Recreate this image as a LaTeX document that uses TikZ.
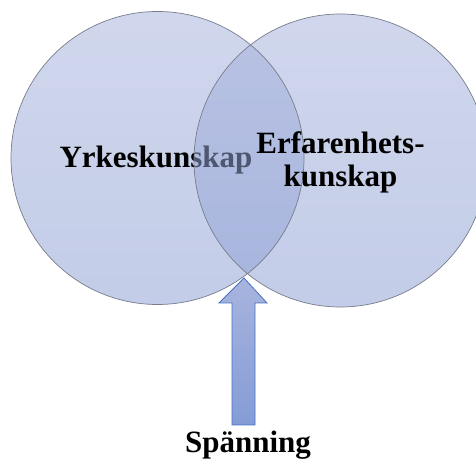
\documentclass[tikz,border=0pt]{standalone}
\usepackage{fontspec}
\setmainfont{Liberation Serif}
\definecolor{cirkeltopp}{RGB}{165,178,220}
\definecolor{cirkelbotten}{RGB}{140,158,210}
\definecolor{cirkelkant}{RGB}{120,125,140}
\definecolor{piltopp}{RGB}{168,180,222}
\definecolor{pilbotten}{RGB}{132,156,214}
\definecolor{pilkant}{RGB}{70,114,196}
\tikzset{
 mangd/.style={top color=cirkeltopp,bottom color=cirkelbotten,fill opacity=0.52},
 mangdkant/.style={draw=cirkelkant,line width=0.7pt},
 etikett/.style={font=\fontsize{31}{33}\selectfont\bfseries,inner sep=0pt}
}
\begin{document}
\begin{tikzpicture}[x=1pt,y=1pt]
 \useasboundingbox (0,0) rectangle (476,460);
 \coordinate (yrke) at (157.5,302); %vänster cirkel
 \coordinate (erf) at (340.5,299.5); %höger cirkel
 \shade[mangd] (yrke) circle[radius=146.5pt];
 \node[etikett,anchor=base] (yrketext) at (156,292) {Yrkeskunskap};
 \shade[mangd] (erf) circle[radius=146.5pt];
 \draw[mangdkant] (yrke) circle[radius=146.5pt];
 \draw[mangdkant] (erf) circle[radius=146.5pt];
 \node[etikett,anchor=base,align=center] (erftext) at (340.5,273) {Erfarenhets-\\kunskap};
 %pil
 \shade[top color=piltopp,bottom color=pilbotten,draw=pilkant,line width=0.8pt,line join=miter]
  (232,35)--(232,157)--(219,157)--(244,182)--(267,157)--(255,157)--(255,35)--cycle;
 \node[etikett,anchor=base] (spanning) at (248,8) {Spänning};
\end{tikzpicture}
\end{document}
